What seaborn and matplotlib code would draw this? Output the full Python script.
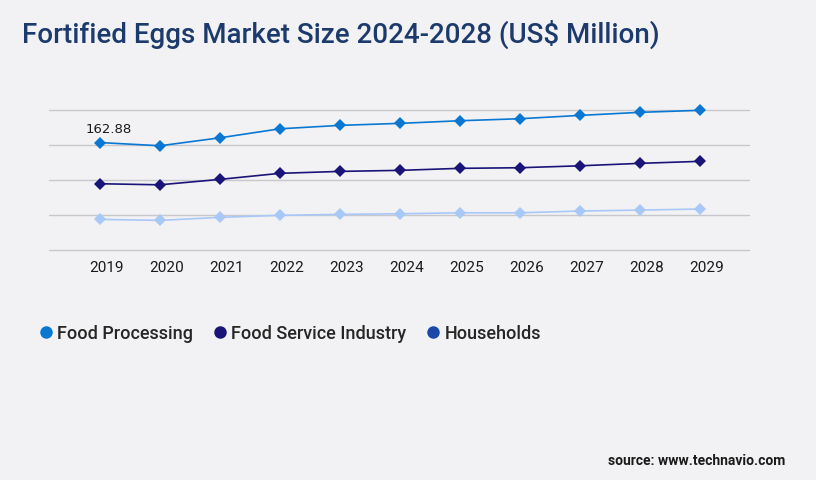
import matplotlib
matplotlib.use("Agg")
import matplotlib.pyplot as plt
import matplotlib.transforms as mtransforms
import seaborn as sns
import pandas as pd
from matplotlib.lines import Line2D

# ---------- DATA ----------
years = ["2019", "2020", "2021", "2022", "2023", "2024", "2025", "2026", "2027", "2028", "2029"]
food_processing = [162.88, 159.2, 168.3, 178.6, 182.5, 184.8, 187.8, 190.1, 193.9, 197.4, 199.7]
food_service = [115.8, 114.6, 120.8, 127.7, 129.9, 131.1, 133.4, 134.1, 136.3, 139.1, 141.4]
households = [75.1, 73.9, 77.4, 79.7, 80.8, 81.5, 82.6, 82.6, 84.6, 85.7, 86.9]
segments = ["Food Processing", "Food Service Industry", "Households"]

BG = "#f2f2f4"
line_colors = {"Food Processing": "#0a78d2", "Food Service Industry": "#1a1478", "Households": "#a8c8f8"}
legend_colors = ["#0a78d2", "#1a1478", "#1a47a8"]

df = pd.DataFrame({"year": years * 3,
                   "value": food_processing + food_service + households,
                   "segment": [s for s in segments for _ in years]})
df["x"] = df.groupby("segment").cumcount()

sns.set_theme(style="white")
plt.rcParams["font.family"] = ["Roboto", "DejaVu Sans"]

fig = plt.figure(figsize=(8.16, 4.8), dpi=100, facecolor=BG)
ax = fig.add_axes([0.060, 0.479, 0.858, 0.2917])
ax.set_facecolor(BG)

sns.lineplot(data=df, x="x", y="value", hue="segment", palette=line_colors,
             marker="D", markersize=6, markeredgewidth=0, linewidth=1.2,
             legend=False, ax=ax, clip_on=False)

ax.set_xlim(-0.85, 10.82)
ax.set_ylim(40, 200)
ax.set_yticks([40, 80, 120, 160, 200])
ax.yaxis.grid(True, color="#c8c8cc", linewidth=1)
for gl in ax.get_ygridlines():
    gl.set_clip_on(False)
ax.tick_params(axis="y", left=False, labelleft=False)
ax.set_xticks(range(len(years)))
ax.set_xticklabels(years, fontsize=11, color="#1a1a1a")
ax.tick_params(axis="x", length=0, pad=8)
shift = mtransforms.ScaledTranslation(7 / 100, 0, fig.dpi_scale_trans)
for lbl in ax.get_xticklabels():
    lbl.set_transform(lbl.get_transform() + shift)
ax.set_xlabel("")
ax.set_ylabel("")
for s in ax.spines.values():
    s.set_visible(False)

ax.annotate(f"{food_processing[0]:.2f}", (0, food_processing[0]), xytext=(6, 5),
            textcoords="offset points", ha="center", va="bottom", fontsize=9.5,
            color="#1a1a1a", family=["DejaVu Sans"])

fig.text(0.027, 0.912, "Fortified Eggs Market Size 2024-2028 (US$ Million)",
         fontsize=20, fontweight="medium", color="#1c3a6b", ha="left", va="baseline")

handles = [Line2D([0], [0], marker="o", linestyle="", markersize=9,
                  markerfacecolor=c, markeredgewidth=0) for c in legend_colors]
fig.legend(handles, segments, loc="center left", bbox_to_anchor=(0.026, 0.305),
           frameon=False, ncol=3, handletextpad=0.1,
           columnspacing=1.0, handlelength=1.0, prop={"weight": "medium", "size": 13})

fig.text(0.962, 0.032, "source: www.technavio.com", fontsize=10, fontweight="bold",
         color="#1a1a1a", ha="right", va="baseline")

fig.savefig("out.png", dpi=100, facecolor=BG)
